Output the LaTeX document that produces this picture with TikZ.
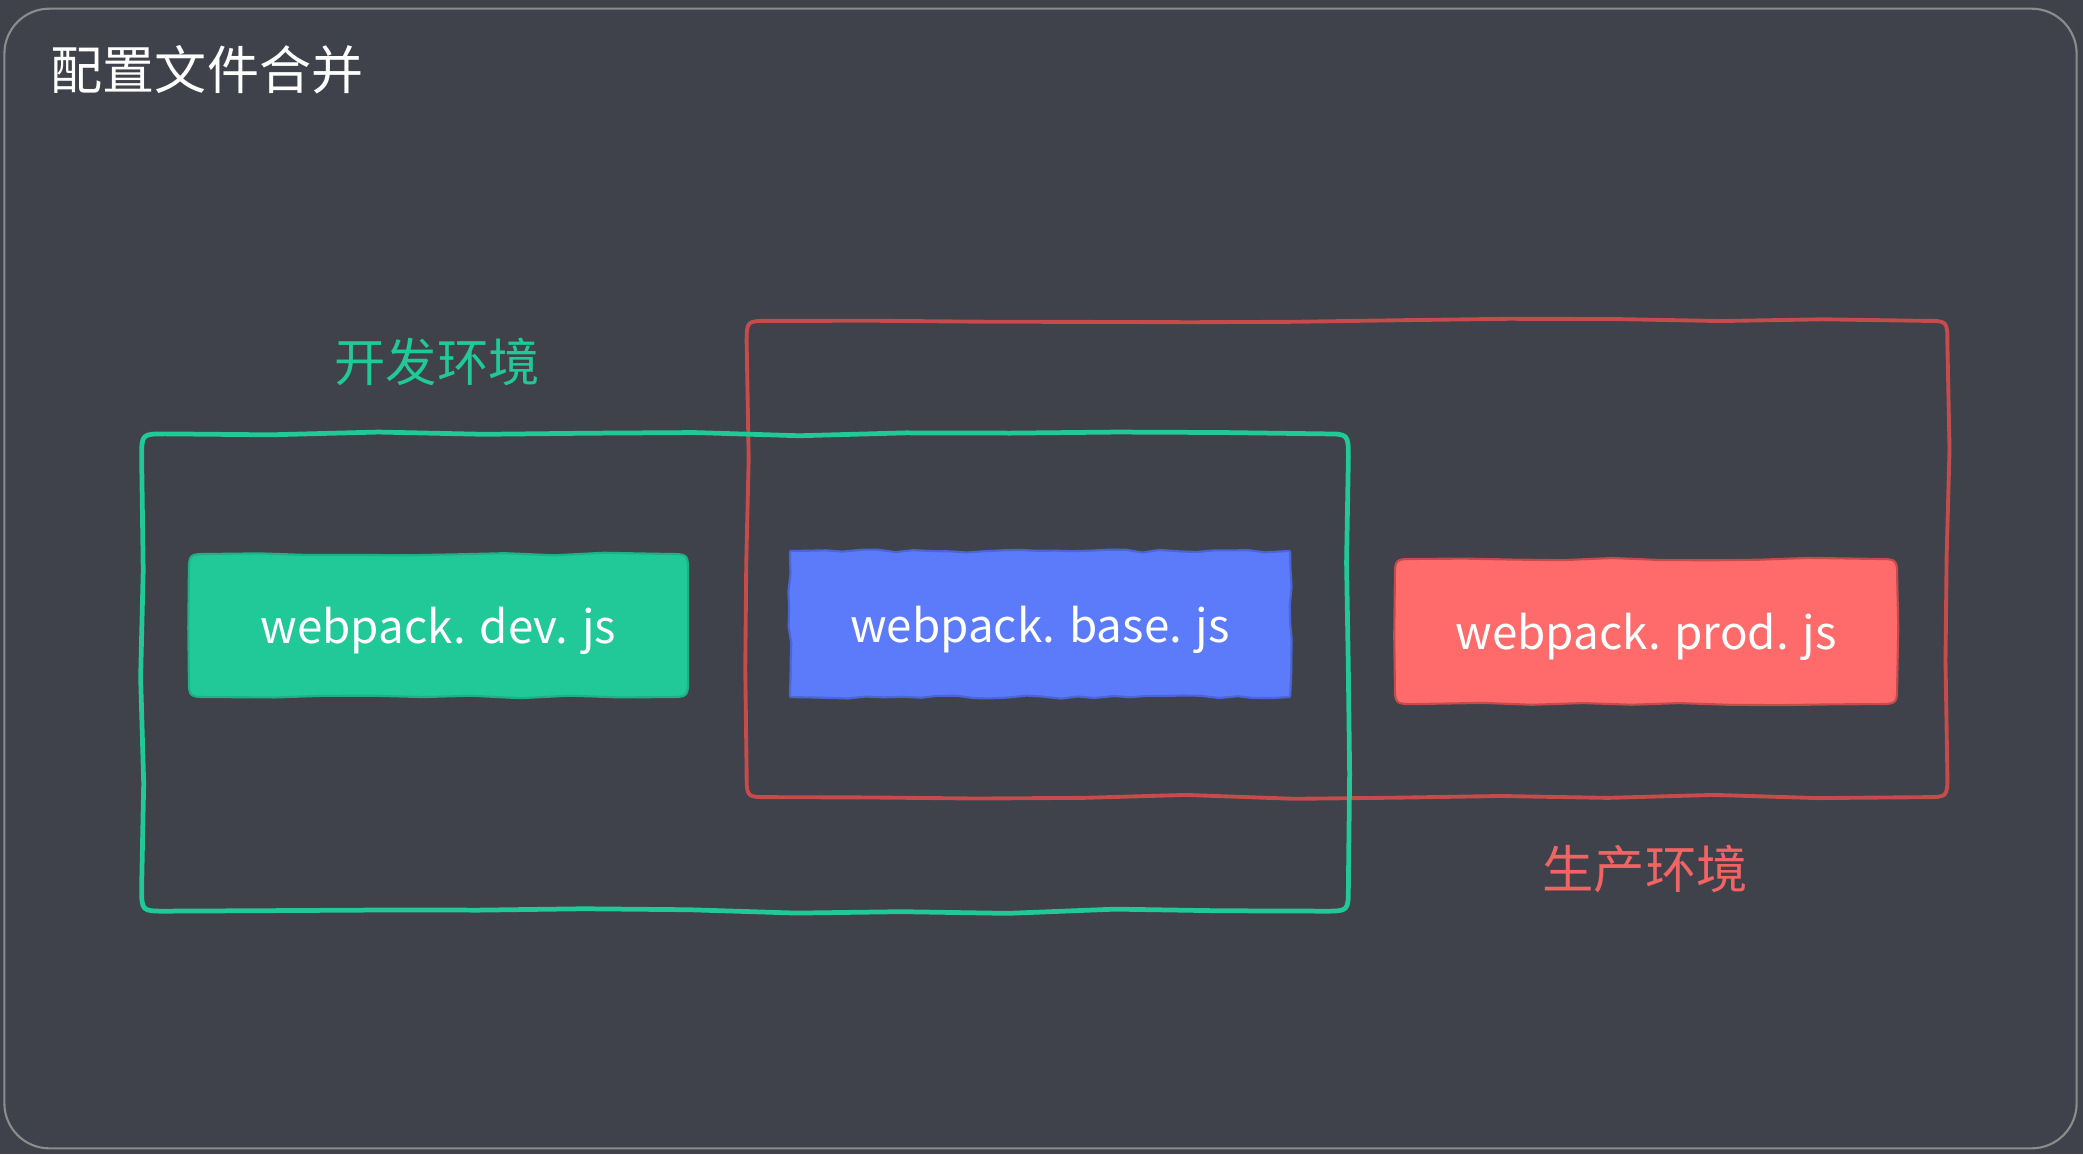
\documentclass[tikz,border=0pt]{standalone}
\usepackage{fontspec}
\setmainfont{Noto Sans CJK SC}
\usetikzlibrary{decorations.pathmorphing,calc,backgrounds}
\definecolor{bg}{HTML}{3F424B}
\definecolor{framegray}{HTML}{8C8C8C}
\definecolor{devgreen}{HTML}{20C997}
\definecolor{devline}{HTML}{1DB286}
\definecolor{basebluefill}{HTML}{5B7BFA}
\definecolor{baseblueline}{HTML}{4A66D6}
\definecolor{prodfill}{HTML}{FF6B6B}
\definecolor{prodline}{HTML}{C64B4B}
\definecolor{prodtext}{HTML}{F26464}
\newcommand{\wobblyrect}[3]{%
  \path[#3] ($(#1.north west)+(0,#2)$) .. controls (#1.north west) .. ($(#1.north west)+(#2,0)$)
    decorate{-- ($(#1.north east)+(-#2,0)$)}
    .. controls (#1.north east) .. ($(#1.north east)+(0,#2)$)
    decorate{-- ($(#1.south east)+(0,-#2)$)}
    .. controls (#1.south east) .. ($(#1.south east)+(-#2,0)$)
    decorate{-- ($(#1.south west)+(#2,0)$)}
    .. controls (#1.south west) .. ($(#1.south west)+(0,-#2)$)
    decorate{-- ($(#1.north west)+(0,#2)$)} -- cycle;}
\begin{document}
\begin{tikzpicture}[x=0.01cm,y=-0.01cm,
  bigwobble/.style={decoration={random steps,segment length=30pt,amplitude=0.75pt},line join=round},
  smallwobble/.style={decoration={random steps,segment length=14pt,amplitude=0.4pt},line join=round},
  roughwobble/.style={decoration={random steps,segment length=5pt,amplitude=0.45pt},line join=round},
  container/.style={inner sep=0pt,outer sep=0pt},
  filebox/.style={text=white,font=\fontsize{13pt}{15pt}\selectfont,inner sep=0pt,outer sep=0pt,text depth=0pt},
  envlabel/.style={font=\fontsize{14.6pt}{17pt}\selectfont,inner sep=0pt}
]
\pgfmathsetseed{11}
\useasboundingbox (0,0) rectangle (2083,1154);
\node[draw=framegray,line width=0.6pt,rounded corners=0.45cm,minimum width=20.71cm,minimum height=11.39cm] (frame) at (1040.5,578.5) {};
\node[text=white,font=\fontsize{14.8pt}{17pt}\selectfont,inner sep=0pt] (title) at (207,70) {配置文件合并};
% containers
\node[container,minimum width=12cm,minimum height=4.76cm] (prodenv) at (1347,559) {};
\node[container,minimum width=12.06cm,minimum height=4.77cm] (devenv) at (745,672.5) {};
\wobblyrect{prodenv}{22}{draw=prodline,line width=1.1pt,bigwobble}
\wobblyrect{devenv}{24}{draw=devgreen,line width=1.35pt,bigwobble}
% labels
\node[envlabel,text=devgreen] (devlabel) at (437,362) {开发环境};
\node[envlabel,text=prodtext] (prodlabel) at (1645,869) {生产环境};
% file boxes
\node[filebox,minimum width=4.99cm,minimum height=1.43cm] (dev) at (438.5,625.5) {webpack. dev. js};
\node[filebox,minimum width=5cm,minimum height=1.46cm] (base) at (1040,624) {webpack. base. js};
\node[filebox,minimum width=5.02cm,minimum height=1.45cm] (prod) at (1646,631.5) {webpack. prod. js};
\begin{scope}[on background layer]
\fill[bg] (0,0) rectangle (2083,1154);
\wobblyrect{dev}{20}{fill=devgreen,draw=devline,line width=0.6pt,smallwobble}
\wobblyrect{base}{1}{fill=basebluefill,draw=baseblueline,line width=0.6pt,roughwobble}
\wobblyrect{prod}{20}{fill=prodfill,draw=prodline,line width=0.6pt,smallwobble}
\end{scope}
\end{tikzpicture}
\end{document}
